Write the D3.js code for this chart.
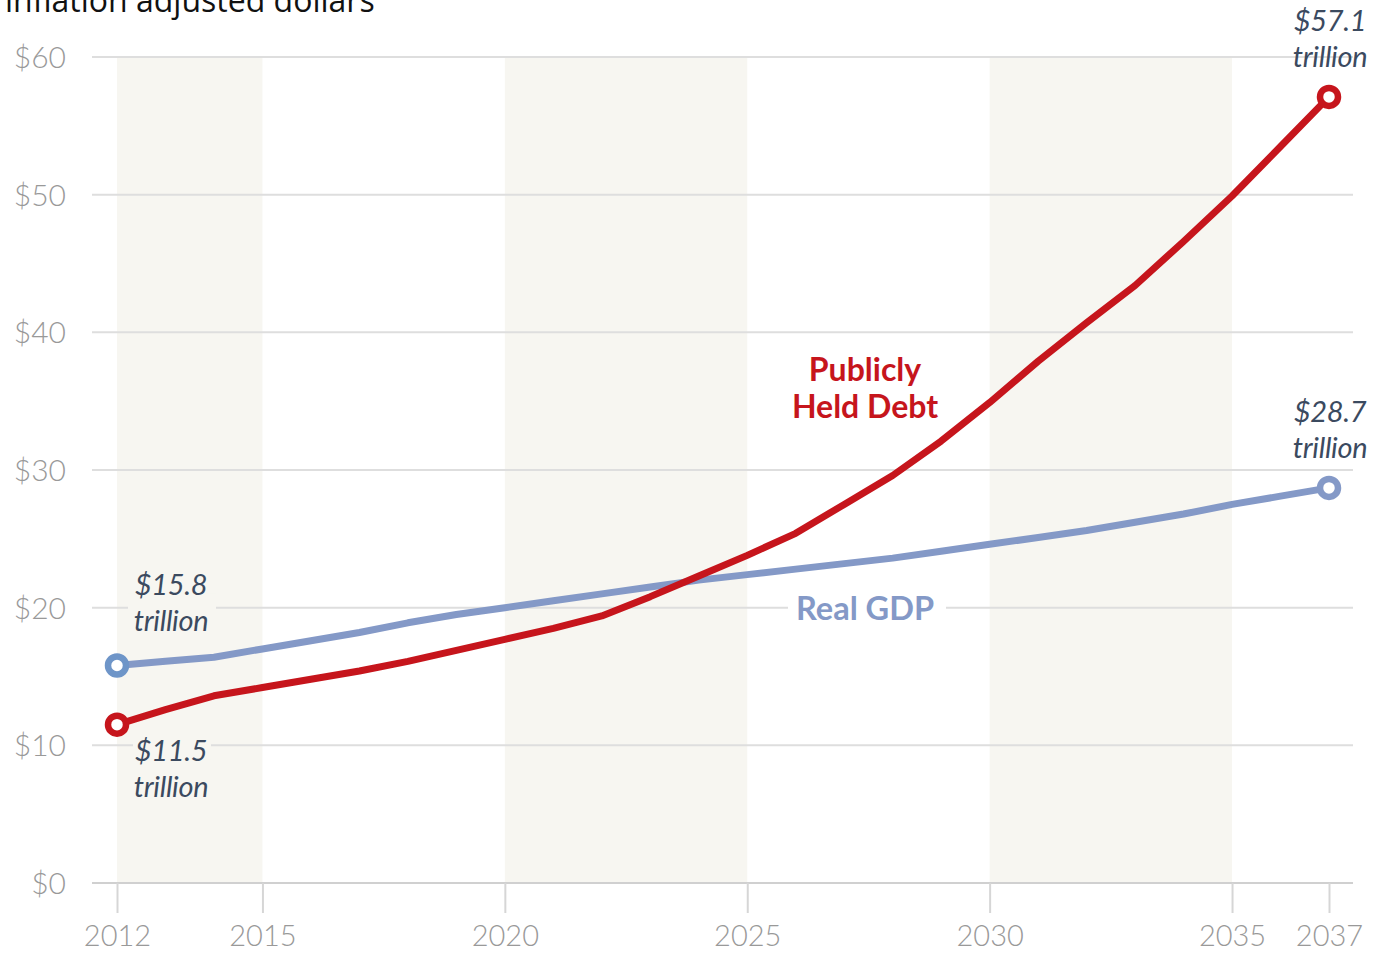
<!DOCTYPE html>
<html>
<head>
<meta charset="utf-8">
<script src="https://cdn.jsdelivr.net/npm/d3@7"></script>
<style>
  html, body { margin: 0; padding: 0; background: #fff; }
  svg { display: block; }
</style>
</head>
<body>
<svg id="chart" width="1385" height="953"></svg>
<script>
// Publicly held debt vs. real GDP, trillions of inflation-adjusted dollars
const years = [2012, 2013, 2014, 2015, 2016, 2017, 2018, 2019, 2020, 2021, 2022, 2023, 2024,
               2025, 2026, 2027, 2028, 2029, 2030, 2031, 2032, 2033, 2034, 2035, 2036, 2037];
const debt = [11.5, 12.6, 13.6, 14.2, 14.8, 15.4, 16.1, 16.9, 17.7, 18.5, 19.4, 20.8, 22.3,
              23.8, 25.4, 27.5, 29.6, 32.1, 34.9, 37.9, 40.7, 43.4, 46.6, 49.9, 53.5, 57.1];
const gdp = [15.8, 16.1, 16.4, 17.0, 17.6, 18.2, 18.9, 19.5, 20.0, 20.5, 21.0, 21.5, 22.0,
             22.4, 22.8, 23.2, 23.6, 24.1, 24.6, 25.1, 25.6, 26.2, 26.8, 27.5, 28.1, 28.7];
const yTicks = [0, 10, 20, 30, 40, 50, 60];
const xTicks = [2012, 2015, 2020, 2025, 2030, 2035, 2037];
const bands = [[2012, 2015], [2020, 2025], [2030, 2035]];
const subtitle = "inflation adjusted dollars";

const svg = d3.select("#chart");
const x = d3.scaleLinear().domain([2012, 2037]).range([117, 1329]);
const y = d3.scaleLinear().domain([0, 60]).range([883, 57]);
const gridX0 = 92, gridX1 = 1353;

const RED = "#c6151c", BLUE = "#8499c7", BLUE_START = "#6e95c8";
const LABEL = "#3b4a5f", AXIS = "#999";

// alternating period bands
svg.append("g").selectAll("rect").data(bands).join("rect")
  .attr("x", d => x(d[0])).attr("width", d => x(d[1]) - x(d[0]))
  .attr("y", y(60)).attr("height", y(0) - y(60))
  .attr("fill", "#f7f6f1");

// horizontal gridlines
svg.append("g").selectAll("line").data(yTicks).join("line")
  .attr("x1", gridX0).attr("x2", gridX1)
  .attr("y1", d => y(d)).attr("y2", d => y(d))
  .attr("stroke", d => d === 0 ? "#d0d0d0" : "#dedede")
  .attr("stroke-width", 2);

// y axis labels
const yAxis = svg.append("g").attr("transform", `translate(66,0)`)
  .call(d3.axisLeft(y).tickValues(yTicks).tickFormat(d => "$" + d).tickSize(0).tickPadding(0));
yAxis.select(".domain").remove();
yAxis.selectAll("text")
  .attr("fill", AXIS).attr("font-family", "Lato").attr("font-size", 30).attr("font-weight", 300)
  .attr("dy", "0.35em");

// x axis ticks and labels
const xAxis = svg.append("g").attr("transform", `translate(0,${y(0)})`)
  .call(d3.axisBottom(x).tickValues(xTicks).tickFormat(d3.format("d")).tickSize(30).tickPadding(12));
xAxis.select(".domain").remove();
xAxis.selectAll(".tick line").attr("stroke", "#d6d6d6").attr("stroke-width", 2);
xAxis.selectAll("text")
  .attr("fill", AXIS).attr("font-family", "Lato").attr("font-size", 29).attr("font-weight", 300);

// masks where inline labels break gridlines
const masks = [
  { x0: 128, yv: 20, w: 88, h: 28, fill: "#f7f6f1" },
  { x0: 133, yv: 10, w: 78, h: 28, fill: "#f7f6f1" },
  { x0: 788, yv: 20, w: 158, h: 32, fill: "#fff" }
];
svg.append("g").selectAll("rect").data(masks).join("rect")
  .attr("x", d => d.x0).attr("y", d => y(d.yv) - d.h / 2).attr("width", d => d.w).attr("height", d => d.h)
  .attr("fill", d => d.fill);

const line = d3.line().x((d, i) => x(years[i])).y(d => y(d)).curve(d3.curveLinear);

svg.append("path").datum(gdp).attr("d", line)
  .attr("fill", "none").attr("stroke", BLUE).attr("stroke-width", 7)
  .attr("stroke-linejoin", "round").attr("stroke-linecap", "round");
svg.append("path").datum(debt).attr("d", line)
  .attr("fill", "none").attr("stroke", RED).attr("stroke-width", 7)
  .attr("stroke-linejoin", "round").attr("stroke-linecap", "round");

// end-point markers
const last = years.length - 1;
const markers = [
  { yr: years[0], v: gdp[0], c: BLUE_START },
  { yr: years[last], v: gdp[last], c: BLUE },
  { yr: years[0], v: debt[0], c: RED },
  { yr: years[last], v: debt[last], c: RED }
];
svg.append("g").selectAll("circle").data(markers).join("circle")
  .attr("cx", d => x(d.yr)).attr("cy", d => y(d.v)).attr("r", 9)
  .attr("fill", "#fff").attr("stroke", d => d.c).attr("stroke-width", 6.5);

// value callouts
const callouts = [
  { cx: 171, top: 585, lines: ["$" + gdp[0], "trillion"] },
  { cx: 171, top: 751, lines: ["$" + debt[0], "trillion"] },
  { cx: 1330, top: 21, lines: ["$" + debt[last], "trillion"] },
  { cx: 1330, top: 412, lines: ["$" + gdp[last], "trillion"] }
];
callouts.forEach(c => {
  const t = svg.append("text")
    .attr("x", c.cx).attr("y", c.top)
    .attr("text-anchor", "middle").attr("fill", LABEL)
    .attr("font-family", "Lato").attr("font-style", "italic").attr("font-size", 29)
    .style("letter-spacing", "-0.3px");
  c.lines.forEach((s, i) => t.append("tspan").attr("x", c.cx).attr("dy", i === 0 ? "0.35em" : 36).text(s));
});

// series labels
const debtLabel = svg.append("text").attr("text-anchor", "middle").attr("fill", RED)
  .attr("font-family", "Lato").attr("font-weight", 700).attr("font-size", 32);
debtLabel.append("tspan").attr("x", 865).attr("y", 381).text("Publicly");
debtLabel.append("tspan").attr("x", 865).attr("y", 418).text("Held Debt");

svg.append("text").attr("x", 865).attr("y", 620).attr("text-anchor", "middle")
  .attr("fill", BLUE).attr("font-family", "Lato").attr("font-weight", 700).attr("font-size", 32.5)
  .text("Real GDP");

// subtitle, running off the top edge
svg.append("text").attr("x", 5).attr("y", 12)
  .attr("fill", "#111").attr("font-family", "Open Sans").attr("font-size", 32)
  .text(subtitle);
</script>
</body>
</html>
